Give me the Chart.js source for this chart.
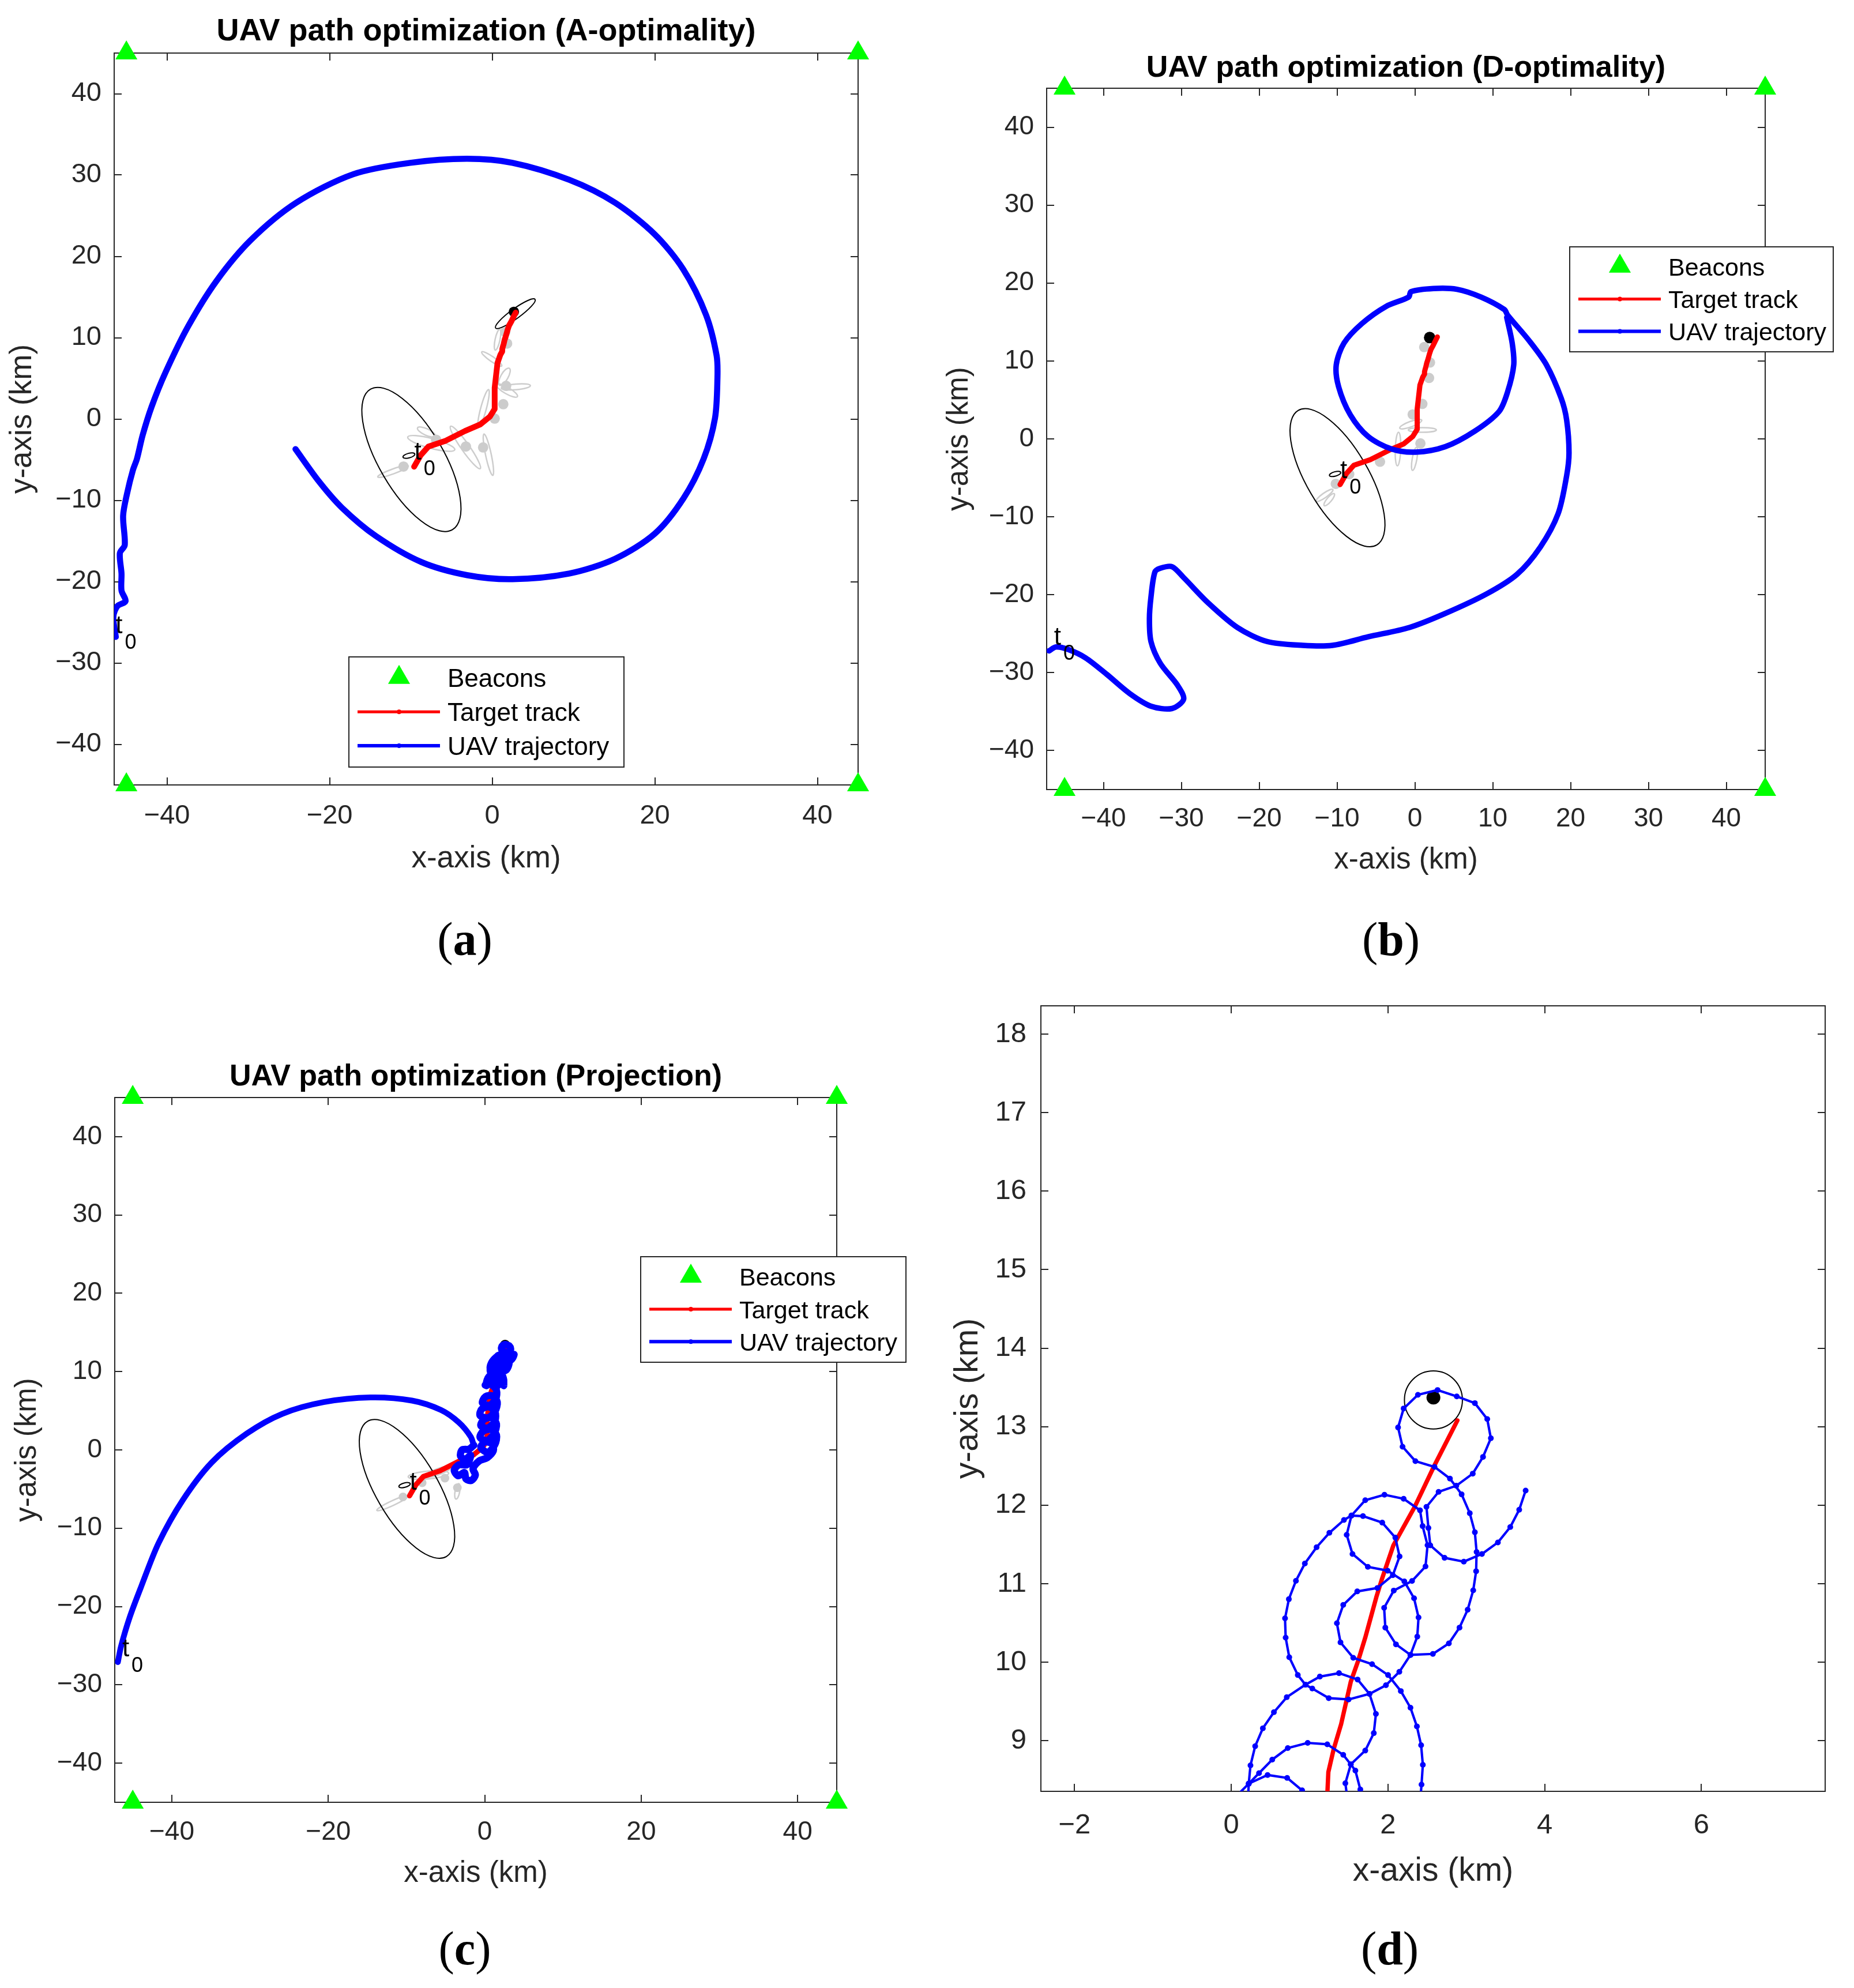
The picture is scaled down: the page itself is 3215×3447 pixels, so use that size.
<!DOCTYPE html>
<html>
<head>
<meta charset="utf-8">
<script src="https://cdn.jsdelivr.net/npm/chart.js@4.4.0/dist/chart.umd.min.js"></script>
<style>
html, body { margin: 0; padding: 0; background: #fff; }
body { width: 3215px; height: 3447px; position: relative; overflow: hidden; }
canvas { position: absolute; }
.cap { position: absolute; width: 400px; text-align: center; font-family: "Liberation Serif", "Times New Roman", serif;
       font-size: 82px; line-height: 82px; color: #000; }
</style>
</head>
<body>
<canvas id="pa"></canvas>
<canvas id="pb"></canvas>
<canvas id="pc"></canvas>
<canvas id="pd"></canvas>
<div class="cap" style="left:606px;top:1588px">(<b>a</b>)</div>
<div class="cap" style="left:2212px;top:1588px">(<b>b</b>)</div>
<div class="cap" style="left:606px;top:3338px">(<b>c</b>)</div>
<div class="cap" style="left:2210px;top:3338px">(<b>d</b>)</div>
<script>
// UAV path optimization, four panels

const titles = ['UAV path optimization (A-optimality)', 'UAV path optimization (D-optimality)', 'UAV path optimization (Projection)'];
const legendLabels = ['Beacons', 'Target track', 'UAV trajectory'];
const beacons = [[-45, 45], [45, 45], [-45, -45], [45, -45]];

const ticks20 = [-40, -20, 0, 20, 40];
const ticks10 = [-40, -30, -20, -10, 0, 10, 20, 30, 40];
const xTicksD = [-2, 0, 2, 4, 6];
const yTicksD = [9, 10, 11, 12, 13, 14, 15, 16, 17, 18];

// target track (shared by all panels)
const targetTrack = [[-9.61,-5.86],[-8.79,-4.44],[-7.84,-3.38],[-5.72,-2.67],[-3.36,-1.48],[-1.47,-0.66],[-0.29,0.29],
  [0.30,1.23],[0.30,3.84],[0.65,6.91],[1.0,7.9],[1.225,8.30],[1.239,8.601],[1.307,8.894],[1.402,9.212],[1.525,9.751],
  [1.620,10.020],[1.710,10.314],[1.851,10.828],[1.919,11.048],[2.069,11.489],[2.341,11.979],[2.586,12.493],[2.886,13.08]];

// UAV trajectories
const uavPathA = [[-46.3,-26.8],[-46.6,-24.3],[-46.1,-23.0],[-45.1,-22.4],[-45.6,-21.1],[-45.6,-19.0],[-45.8,-16.5],
  [-45.2,-15.5],[-45.4,-11.9],[-44.9,-9.1],[-44.2,-6.3],[-43.7,-4.9],[-43.0,-2.0],[-41.9,1.5],[-40.2,5.7],[-37.4,11.4],
  [-33.9,17.0],[-29.7,22.0],[-24.1,26.6],[-17.1,30.1],[-10.1,31.5],[-3.1,32.0],[2.5,31.5],[9.5,29.4],[15.1,26.6],
  [20.0,22.7],[23.5,18.4],[26.3,12.8],[27.6,7.8],[27.7,5.0],[27.4,0.1],[26.0,-4.9],[23.5,-9.8],[20.0,-14.1],[15.1,-17.2],
  [9.5,-19.0],[2.5,-19.7],[-3.1,-19.2],[-8.7,-17.6],[-14.3,-14.4],[-18.5,-10.9],[-21.3,-7.7],[-24.2,-3.7]];

const uavPathB = [[-47.0,-27.2],[-46.1,-26.7],[-44.6,-27.0],[-42.3,-28.1],[-39.6,-30.2],[-36.6,-32.7],[-33.9,-34.3],
  [-31.2,-34.6],[-29.7,-33.4],[-30.5,-31.6],[-32.7,-28.8],[-33.9,-26.0],[-34.1,-23.1],[-33.9,-20.3],[-33.4,-17.1],
  [-32.7,-16.6],[-31.2,-16.4],[-29.7,-17.8],[-26.6,-21.0],[-22.8,-24.2],[-19.0,-26.0],[-14.4,-26.5],[-10.6,-26.5],
  [-6.0,-25.4],[-0.7,-24.2],[3.9,-22.4],[9.2,-19.9],[13.1,-17.4],[16.1,-13.9],[18.4,-9.6],[19.5,-4.7],[19.8,-1.8],
  [19.5,2.4],[18.8,5.2],[16.9,9.5],[14.6,12.7],[11.9,15.9],[11.5,16.6],[8.5,18.2],[5.4,19.2],[2.4,19.3],[-0.5,18.9],
  [-0.8,18.2],[-3.7,17.0],[-6.8,14.8],[-9.1,12.3],[-10.1,9.5],[-9.8,6.7],[-8.3,3.1],[-6.0,0.3],[-3.0,-1.3],[0.1,-1.7],
  [3.9,-1.0],[7.7,1.0],[10.8,3.5],[11.9,6.0],[12.7,9.5],[12.5,12.3],[11.8,15.6]];

const uavPathC = [[-46.9,-27.1],[-46.5,-25.1],[-45.4,-21.4],[-43.9,-17.4],[-41.7,-11.9],[-38.6,-6.4],[-34.9,-1.6],
  [-30.4,2.1],[-25.9,4.6],[-20.6,6.1],[-14.6,6.7],[-9.3,6.3],[-5.6,5.1],[-3.3,3.5],[-1.8,1.7],[-1.4,0.6]];

const cLoops = [[-1.4,0.6],[-2.0,0.1],[-2.9,0.0],[-3.1,-0.8],[-2.5,-1.2],[-1.8,-0.7],[-2.3,-1.9],[-3.3,-1.9],[-3.9,-2.6],
  [-3.4,-3.3],[-2.6,-2.9],[-2.4,-3.7],[-1.7,-3.9],[-1.2,-3.2],[-1.5,-2.4],[-0.7,-1.4],[0.3,-1.0],[1.1,-0.1],[0.9,0.8],
  [0.0,1.0],[-0.5,0.3],[0.4,-0.3],[1.3,0.7],[1.5,1.9],[0.8,2.6],[-0.2,2.4],[-0.6,1.6],[0.3,1.2],[1.2,2.1],[1.5,3.3],
  [0.9,4.1],[-0.1,3.9],[-0.5,3.1],[0.4,2.8],[1.3,3.7],[1.3,4.9],[0.5,5.5],[-0.4,5.2],[-0.6,4.4],[0.4,4.1],[1.3,4.9],
  [1.6,6.1],[1.0,6.9],[0.1,6.8],[-0.3,6.0],[0.6,5.7],[1.4,6.5],[1.5,7.6],[0.9,8.3],[0.223,8.454]];

// close-up loops near the target (panel d, also part of panel c)
const dLoopA = [[3.757,12.187],[3.675,11.942],[3.561,11.722],[3.403,11.526],[3.199,11.379],[2.968,11.281],[2.722,11.330],
  [2.540,11.489],[2.516,11.710],[2.491,11.979],[2.646,12.170],[2.872,12.248],[3.082,12.402],[3.213,12.615],[3.313,12.853],
  [3.267,13.097],[3.109,13.300],[2.878,13.386],[2.633,13.467],[2.382,13.406],[2.200,13.232],[2.129,12.990],[2.186,12.745],
  [2.350,12.561],[2.594,12.488],[2.791,12.339],[2.940,12.138],[3.044,11.898],[3.109,11.656],[3.131,11.404],[3.125,11.159],
  [3.088,10.916],[3.017,10.669],[2.913,10.441],[2.777,10.240],[2.573,10.106],[2.287,10.094],[2.145,9.878],[1.974,9.707],
  [1.764,9.597],[1.497,9.526],[1.244,9.543],[1.034,9.665],[0.947,9.714],[0.849,9.837],[0.740,10.064],[0.694,10.314],
  [0.686,10.559],[0.735,10.803],[0.825,11.037],[0.939,11.257],[1.089,11.465],[1.252,11.648],[1.438,11.812],[1.534,11.868],
  [1.681,11.861],[1.927,11.778],[2.094,11.587],[2.148,11.347],[2.062,11.109],[1.865,10.946],[1.608,10.902],[1.429,10.730],
  [1.348,10.497],[1.394,10.253],[1.557,10.057],[1.797,9.976],[2.001,9.837],[2.164,9.633],[2.287,9.421],[2.369,9.183],
  [2.423,8.943],[2.445,8.694],[2.428,8.442],[2.41,8.20]];
const dLoopB = [[2.287,10.094],[2.374,10.326],[2.390,10.571],[2.333,10.815],[2.209,11.029],[1.996,11.166],[1.743,11.215],
  [1.547,11.379],[1.473,11.623],[1.534,11.868],[1.710,12.064],[1.955,12.133],[2.200,12.082],[2.409,11.935],[2.442,11.734],
  [2.505,11.49],[2.479,11.220],[2.307,11.035],[2.074,10.913],[1.951,10.693],[1.966,10.441],[2.102,10.228],[2.287,10.094]];
const dLoopC = [[0.21,8.20],[0.223,8.454],[0.245,8.686],[0.305,8.931],[0.403,9.159],[0.544,9.364],[0.708,9.555],
  [0.947,9.714],[1.130,9.817],[1.375,9.861],[1.612,9.780],[1.764,9.597],[1.846,9.342],[1.819,9.097],[1.710,8.875],
  [1.525,8.699],[1.456,8.459],[1.49,8.20]];
const dLoopD = [[0.05,8.28],[0.223,8.454],[0.354,8.588],[0.523,8.760],[0.721,8.907],[0.975,8.973],[1.225,8.955],
  [1.429,8.821],[1.525,8.699],[1.584,8.620],[1.647,8.380],[1.66,8.20]];
const dLoopE = [[0.223,8.454],[0.463,8.564],[0.713,8.527],[0.904,8.368],[0.95,8.32]];

// ellipses: [cx, cy, semi-axis a, semi-axis b, angle deg]
const initEllipse = [-9.94, -4.98, 10.0, 3.97, -59.7];
const startCap = [-10.25, -4.5, 0.75, 0.28, 15];
const endEllipseA = [2.84, 12.95, 3.0, 0.6, 36];
const endCircleD = [2.58, 13.34, 0.37, 0.37, 0];

const grayEllA = [[-0.47,-4.39,2.6,0.35,-78],[-3.3,-3.5,3.18,0.5,-55],[-7.5,-3.0,3.0,0.6,-15],[-8.1,-1.6,1.2,0.4,-25],
  [-12.2,-6.45,2.0,0.3,20],[2.9,3.95,1.8,0.35,5],[-0.06,7.39,1.5,0.3,-35],[-1.07,1.3,2.4,0.35,75],[0.65,9.75,1.3,0.3,78],
  [1.8,3.5,1.5,0.4,-30],[1.5,5.2,1.2,0.45,60]];
const grayDotsA = [[-10.91,-5.85],[-6.9,-2.55],[-3.24,-3.38],[-1.12,-3.50],[0.30,0.05],[1.36,1.82],[1.71,4.07],
  [1.83,9.28],[1.60,10.7]];
const grayEllB = [[-2.17,-1.3,2.16,0.35,88],[-0.04,-2.56,1.5,0.3,80],[0.96,1.15,1.8,0.3,0],[-0.53,1.89,1.5,0.35,20],
  [-11.6,-7.25,1.3,0.3,35],[-11.0,-7.8,1.0,0.3,50]];
const grayDotsB = [[-10.16,-5.77],[-8.44,-4.53],[-4.48,-2.93],[0.71,-0.58],[-0.28,3.13],[0.96,4.49],[1.82,7.82],
  [1.94,9.80],[1.2,11.78]];
const grayEllC = [[-7.2,-3.2,2.6,0.5,5],[-6.0,-2.8,1.8,0.4,20],[-11.8,-6.8,2.2,0.3,25],[-3.5,-5.3,1.0,0.3,80]];
const grayDotsC = [[-10.45,-6.0],[-8.0,-4.2],[-5.09,-3.6],[-3.5,-4.83]];

const endDotA = [[2.66, 13.18]];
const endDotB = [[1.9, 13.0]];
const endDotC = [[2.6, 13.4]];
const endDotD = [[2.58, 13.37]];

const t0Target = [-9.14, -4.16];
const t0Uav = [-45.9, -25.5];

const FONT = '"Liberation Sans", Arial, Helvetica, sans-serif';
const INK = '#262626';
const BLUE = '#0000ff', RED = '#ff0000', GREEN = '#00ff00';

function toPts(arr) { return arr.map(p => ({ x: p[0], y: p[1] })); }
function fmtTick(v) { return v < 0 ? '\u2212' + Math.abs(v) : String(v); }

function lineSet(arr, color, width, order, tension, pr) {
    return {
        data: toPts(arr), showLine: true, borderColor: color, borderWidth: width, tension: tension,
        pointRadius: pr || 0, pointBackgroundColor: color, pointBorderWidth: 0,
        borderJoinStyle: 'round', borderCapStyle: 'round', clip: 0, order: order
    };
}
function dotSet(arr, color, r, order, style, clip) {
    return {
        data: toPts(arr), showLine: false, pointRadius: r, pointStyle: style || 'circle',
        pointBackgroundColor: color, pointBorderWidth: 0, clip: clip === undefined ? 0 : clip, order: order
    };
}

function strokeEllipse(chart, e, color, lw) {
    const ctx = chart.ctx, xs = chart.scales.x, ys = chart.scales.y;
    const cx = xs.getPixelForValue(e[0]), cy = ys.getPixelForValue(e[1]);
    const kx = xs.getPixelForValue(e[0] + 1) - cx, ky = cy - ys.getPixelForValue(e[1] + 1);
    ctx.save();
    ctx.beginPath();
    ctx.translate(cx, cy);
    ctx.scale(kx, -ky);
    ctx.ellipse(0, 0, e[2], e[3], e[4] * Math.PI / 180, 0, Math.PI * 2);
    ctx.restore();
    ctx.lineWidth = lw;
    ctx.strokeStyle = color;
    ctx.stroke();
}

function triangle(ctx, x, y, r) {
    ctx.beginPath();
    ctx.moveTo(x, y - r);
    ctx.lineTo(x + r * 0.866, y + r * 0.5);
    ctx.lineTo(x - r * 0.866, y + r * 0.5);
    ctx.closePath();
    ctx.fillStyle = GREEN;
    ctx.fill();
}

function decor(p) {
    return {
        id: 'decor',
        beforeDatasetsDraw(chart) {
            const { ctx, chartArea: a } = chart;
            const xs = chart.scales.x, ys = chart.scales.y;
            ctx.save();
            ctx.strokeStyle = INK;
            ctx.lineWidth = 2;
            ctx.strokeRect(a.left, a.top, a.right - a.left, a.bottom - a.top);
            ctx.beginPath();
            p.xTicks.forEach(v => {
                const px = Math.round(xs.getPixelForValue(v));
                ctx.moveTo(px, a.bottom); ctx.lineTo(px, a.bottom - 13);
                ctx.moveTo(px, a.top); ctx.lineTo(px, a.top + 13);
            });
            p.yTicks.forEach(v => {
                const py = Math.round(ys.getPixelForValue(v));
                ctx.moveTo(a.left, py); ctx.lineTo(a.left + 13, py);
                ctx.moveTo(a.right, py); ctx.lineTo(a.right - 13, py);
            });
            ctx.stroke();
            ctx.beginPath();
            ctx.rect(a.left, a.top, a.right - a.left, a.bottom - a.top);
            ctx.clip();
            (p.grayEllipses || []).forEach(e => strokeEllipse(chart, e, '#cdcdcd', 2.5));
            (p.blackEllipses || []).forEach(e => strokeEllipse(chart, e, '#000000', 2));
            ctx.restore();
        },
        afterDatasetsDraw(chart) {
            if (!p.t0) return;
            const ctx = chart.ctx, xs = chart.scales.x, ys = chart.scales.y;
            ctx.save();
            ctx.fillStyle = '#000';
            ctx.textAlign = 'center';
            ctx.textBaseline = 'middle';
            [t0Target, t0Uav].forEach(pt => {
                const x = xs.getPixelForValue(pt[0]), y = ys.getPixelForValue(pt[1]);
                ctx.font = '44px ' + FONT;
                ctx.fillText('t', x, y);
                ctx.font = '36px ' + FONT;
                ctx.fillText('0', x + 20, y + 29);
            });
            ctx.restore();
        },
        afterDraw(chart) {
            const { ctx, chartArea: a } = chart;
            ctx.save();
            if (p.title) {
                ctx.fillStyle = '#000';
                ctx.font = 'bold ' + p.titleSize + 'px ' + FONT;
                ctx.textAlign = 'center';
                ctx.textBaseline = 'middle';
                ctx.fillText(p.title, (a.left + a.right) / 2, a.top - p.titleGap);
            }
            if (p.legendBox) {
                const [bx, by, bw, bh] = p.legendBox;
                const x0 = a.left + bx, y0 = a.top + by;
                ctx.fillStyle = '#fff';
                ctx.fillRect(x0, y0, bw, bh);
                ctx.strokeStyle = INK;
                ctx.lineWidth = 2;
                ctx.strokeRect(x0, y0, bw, bh);
                const rows = [0.208, 0.519, 0.827].map(f => y0 + f * bh);
                triangle(ctx, x0 + 87, rows[0] - 4, 22);
                [[RED, 5, rows[1] - 4], [BLUE, 6, rows[2] - 4]].forEach(([c, w, y]) => {
                    ctx.strokeStyle = c;
                    ctx.lineWidth = w;
                    ctx.beginPath();
                    ctx.moveTo(x0 + 15, y); ctx.lineTo(x0 + 158, y);
                    ctx.stroke();
                    ctx.fillStyle = c;
                    ctx.beginPath();
                    ctx.arc(x0 + 87, y, 4, 0, Math.PI * 2);
                    ctx.fill();
                });
                ctx.fillStyle = '#000';
                ctx.font = p.legendSize + 'px ' + FONT;
                ctx.textAlign = 'left';
                ctx.textBaseline = 'middle';
                legendLabels.forEach((t, i) => ctx.fillText(t, x0 + 171, rows[i]));
            }
            ctx.restore();
        }
    };
}

function makeChart(p, datasets) {
    const cv = document.getElementById(p.id);
    const [L, T, R, B] = p.area;
    const padL = 200, padT = 130, padB = 200;
    cv.width = R - L + padL + p.padR;
    cv.height = B - T + padT + padB;
    cv.style.left = (L - padL) + 'px';
    cv.style.top = (T - padT) + 'px';
    return new Chart(cv, {
        type: 'scatter',
        data: { datasets: datasets },
        options: {
            responsive: false,
            animation: false,
            devicePixelRatio: 1,
            events: [],
            layout: { padding: { left: 0, top: padT, right: p.padR, bottom: 0 } },
            plugins: { legend: { display: false }, tooltip: { enabled: false }, title: { display: false } },
            scales: {
                x: {
                    type: 'linear', min: p.xr[0], max: p.xr[1],
                    grid: { display: false, drawTicks: false }, border: { display: false },
                    afterBuildTicks: s => { s.ticks = p.xTicks.map(v => ({ value: v })); },
                    afterFit: s => { s.height = padB; },
                    ticks: { callback: fmtTick, padding: p.xTickPad, color: INK, autoSkip: false, maxRotation: 0,
                             font: { family: FONT, size: p.tickSize } },
                    title: { display: true, text: 'x-axis (km)', color: INK, font: { family: FONT, size: p.labelSize },
                             padding: { top: 0, bottom: p.xTitlePad } }
                },
                y: {
                    type: 'linear', min: p.yr[0], max: p.yr[1],
                    grid: { display: false, drawTicks: false }, border: { display: false },
                    afterBuildTicks: s => { s.ticks = p.yTicks.map(v => ({ value: v })); },
                    afterFit: s => { s.width = padL; },
                    ticks: { callback: fmtTick, padding: p.yTickPad, color: INK, autoSkip: false,
                             font: { family: FONT, size: p.tickSize } },
                    title: { display: true, text: 'y-axis (km)', color: INK, font: { family: FONT, size: p.labelSize },
                             padding: { top: p.yTitlePad, bottom: 0 } }
                }
            }
        },
        plugins: [decor(p)]
    });
}

const panelA = { id: 'pa', area: [198, 92, 1488, 1361], padR: 60, xr: [-46.5, 45], yr: [-45, 45],
    xTicks: ticks20, yTicks: ticks10, tickSize: 47, labelSize: 53, titleSize: 54, legendSize: 44,
    xTickPad: 26, yTickPad: 22, yTitlePad: 10, xTitlePad: 40, title: titles[0], titleGap: 37,
    legendBox: [407, 1047, 477, 191], t0: true,
    grayEllipses: grayEllA, blackEllipses: [initEllipse, startCap, endEllipseA] };

const panelB = { id: 'pb', area: [1815, 153, 3061, 1369], padR: 140, xr: [-47.3, 45], yr: [-45, 45],
    xTicks: ticks10, yTicks: ticks10, tickSize: 46, labelSize: 51, titleSize: 52, legendSize: 43,
    xTickPad: 24, yTickPad: 22, yTitlePad: 18, xTitlePad: 46, title: titles[1], titleGap: 34,
    legendBox: [907, 275, 457, 182], t0: true,
    grayEllipses: grayEllB, blackEllipses: [initEllipse, startCap] };

const panelC = { id: 'pc', area: [199, 1903, 1451, 3125], padR: 140, xr: [-47.3, 45], yr: [-45, 45],
    xTicks: ticks20, yTicks: ticks10, tickSize: 46, labelSize: 51, titleSize: 52, legendSize: 43,
    xTickPad: 25, yTickPad: 22, yTitlePad: 18, xTitlePad: 45, title: titles[2], titleGap: 35,
    legendBox: [912, 276, 460, 183], t0: true,
    grayEllipses: grayEllC, blackEllipses: [initEllipse, startCap] };

const panelD = { id: 'pd', area: [1805, 1744, 3165, 3106], padR: 40, xr: [-2.43, 7.58], yr: [8.356, 18.36],
    xTicks: xTicksD, yTicks: yTicksD, tickSize: 49, labelSize: 57,
    xTickPad: 30, yTickPad: 25, yTitlePad: 40, xTitlePad: 27, t0: false,
    blackEllipses: [endCircleD] };

makeChart(panelA, [
    dotSet(beacons, GREEN, 22, 0, 'triangle', false),
    lineSet(uavPathA, BLUE, 10.5, 1, 0.3),
    lineSet(targetTrack, RED, 10, 2, 0),
    dotSet(endDotA, '#000', 9, 3),
    dotSet(grayDotsA, '#cccccc', 9, 4)
]);

makeChart(panelB, [
    dotSet(beacons, GREEN, 22, 0, 'triangle', false),
    lineSet(uavPathB, BLUE, 9.5, 1, 0.3),
    lineSet(targetTrack, RED, 9, 2, 0),
    dotSet(endDotB, '#000', 10, 3),
    dotSet(grayDotsB, '#cccccc', 9, 4)
]);

makeChart(panelC, [
    dotSet(beacons, GREEN, 22, 0, 'triangle', false),
    lineSet(uavPathC, BLUE, 10, 1, 0.3),
    lineSet(cLoops, BLUE, 12.5, 1, 0.3),
    lineSet(dLoopA, BLUE, 12.5, 1, 0),
    lineSet(dLoopB, BLUE, 12.5, 1, 0),
    lineSet(dLoopC, BLUE, 12.5, 1, 0),
    lineSet(dLoopD, BLUE, 12.5, 1, 0),
    lineSet(dLoopE, BLUE, 12.5, 1, 0),
    lineSet(targetTrack, RED, 9, 2, 0),
    dotSet(endDotC, '#000', 9, 3),
    dotSet(grayDotsC, '#cccccc', 7.5, 4)
]);

makeChart(panelD, [
    lineSet(dLoopA, BLUE, 4.2, 1, 0, 5),
    lineSet(dLoopB, BLUE, 4.2, 1, 0, 5),
    lineSet(dLoopC, BLUE, 4.2, 1, 0, 5),
    lineSet(dLoopD, BLUE, 4.2, 1, 0, 5),
    lineSet(dLoopE, BLUE, 4.2, 1, 0, 5),
    lineSet(targetTrack, RED, 7.5, 2, 0),
    dotSet(endDotD, '#000', 12, 3)
]);
</script>
</body>
</html>
